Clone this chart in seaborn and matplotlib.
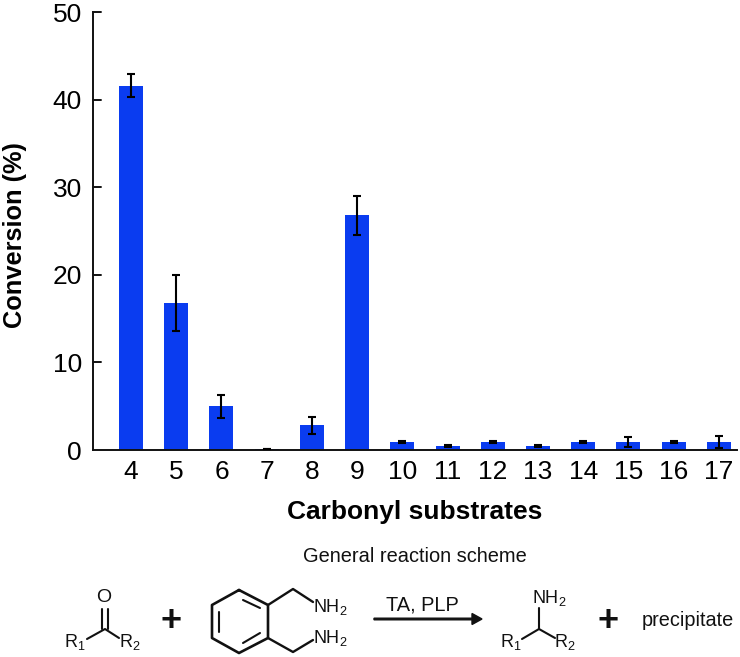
import numpy as np
import pandas as pd
import seaborn as sns
import matplotlib
matplotlib.use("Agg")
import matplotlib.pyplot as plt
from matplotlib.patches import FancyArrow

substrates = ["4", "5", "6", "7", "8", "9", "10", "11", "12", "13", "14", "15", "16", "17"]
conversion = [41.6, 16.8, 5.0, 0.1, 2.8, 26.8, 0.9, 0.45, 0.9, 0.45, 0.9, 0.9, 0.9, 0.9]
err = [1.3, 3.2, 1.3, 0.0, 1.0, 2.2, 0.1, 0.1, 0.1, 0.08, 0.1, 0.6, 0.1, 0.7]
yticks = [0, 10, 20, 30, 40, 50]

sns.set_theme(style="ticks")
plt.rcParams["font.family"] = ["Liberation Sans", "DejaVu Sans"]
plt.rcParams["mathtext.fontset"] = "custom"
plt.rcParams["mathtext.rm"] = "Liberation Sans"
plt.rcParams["mathtext.default"] = "rm"
W, H = 740, 657
fig = plt.figure(figsize=(W / 100, H / 100), dpi=100)
ax = fig.add_axes([93 / W, 1 - 450 / H, (737 - 93) / W, (450 - 12) / H])
df = pd.DataFrame({"substrate": substrates, "conversion": conversion})
sns.barplot(data=df, x="substrate", y="conversion", order=substrates, color="#0a3cf0",
            saturation=1, width=0.53, errorbar=None, ax=ax, linewidth=0)
ax.errorbar(np.arange(len(substrates)), conversion, yerr=err, fmt="none", ecolor="black",
            elinewidth=1.5, capsize=2.6, capthick=1.5, zorder=5)
ax.set_xlim(-0.84, 13.4)
ax.set_ylim(0, 50)
ax.set_yticks(yticks)
ax.set_xlabel("Carbonyl substrates", fontsize=19, fontweight="bold", labelpad=12, color="black")
ax.set_ylabel("Conversion (%)", fontsize=18.3, fontweight="bold", color="black")
ax.yaxis.set_label_coords(-66 / 644, 0.5 - 4 / 438)
ax.tick_params(axis="x", length=0, labelsize=19, pad=7, colors="black")
ax.tick_params(axis="y", length=0, labelsize=19, pad=8, colors="black")
for s in ("top", "right"):
    ax.spines[s].set_visible(False)
for s in ("left", "bottom"):
    ax.spines[s].set_linewidth(1.4)
    ax.spines[s].set_color("#111111")
for v in yticks[1:]:
    ax.plot([0, 0.012], [v, v], transform=ax.get_yaxis_transform(), color="#111111", lw=1.4, clip_on=False)

# Reaction scheme in figure pixels
s = fig.add_axes([0, 0, 1, 1])
s.set_xlim(0, W)
s.set_ylim(H, 0)
s.axis("off")
s.patch.set_alpha(0)
def L(xs, ys, lw=1.5):
    s.plot(xs, ys, color="#111111", lw=lw, solid_capstyle="round", solid_joinstyle="round")
def T(x, y, t, fs=13, **kw):
    s.text(x, y, t, fontsize=fs, ha="center", va="center", color="#111111", **kw)

T(414.5, 556, "General reaction scheme", 14.4)
T(104, 597, "O", 14)
L([102, 102], [609, 629]); L([108, 108], [609, 629])
L([87, 105, 119], [639, 629, 638])
T(75, 642, "R$_1$"); T(130, 642, "R$_2$")
T(171.5, 621, "+", 26, fontweight="bold")
L([239, 268, 268, 239, 212, 212, 239], [590, 605, 638, 653, 638, 605, 590], 1.9)
L([243, 260], [600, 608], 1.5); L([243, 260], [643, 633], 1.5); L([219, 219], [612, 632], 1.5)
L([268, 293, 313], [605, 589, 602], 1.7); L([268, 293, 313], [638, 652, 640], 1.7)
T(330, 607, "NH$_2$"); T(330, 638, "NH$_2$")
T(422, 605, "TA, PLP", 14.4)
s.add_patch(FancyArrow(374, 619, 108, 0, width=1.6, head_width=11, head_length=10,
                       length_includes_head=True, color="#111111"))
T(549, 598, "NH$_2$")
L([539, 539], [608, 629]); L([522, 539, 555], [639, 629, 638])
T(511, 642, "R$_1$"); T(565, 642, "R$_2$")
T(608, 621, "+", 26, fontweight="bold")
T(688, 620, "precipitate", 14.3)
fig.savefig("out.png", dpi=100)
